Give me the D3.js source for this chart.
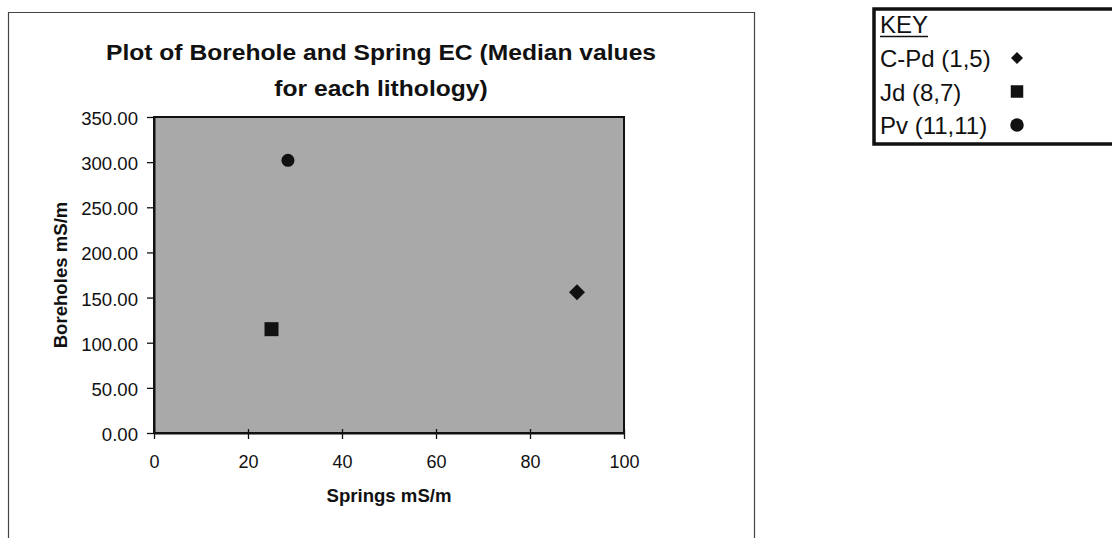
<!DOCTYPE html>
<html>
<head>
<meta charset="utf-8">
<script src="https://cdn.jsdelivr.net/npm/d3@7"></script>
<style>
  html, body { margin: 0; padding: 0; background: #fff; }
  svg { display: block; font-family: "Liberation Sans", Arial, sans-serif; }
</style>
</head>
<body>
<svg id="chart" width="1112" height="538"></svg>
<script>
// Median EC values per lithology
const lithologies = ["C-Pd (1,5)", "Jd (8,7)", "Pv (11,11)"];
const springsEC   = [90, 25, 28.5];      // mS/m
const boreholesEC = [156, 115, 302];     // mS/m
const markerShapes = ["diamond", "square", "circle"];

const xTicks = [0, 20, 40, 60, 80, 100];
const yTicks = [0, 50, 100, 150, 200, 250, 300, 350];

const titleLines = ["Plot of Borehole and Spring EC (Median values", "for each lithology)"];
const xTitle = "Springs mS/m";
const yTitle = "Boreholes mS/m";
const keyTitle = "KEY";

const ink = "#111";
const svg = d3.select("#chart");

// outer chart frame (open at the bottom)
svg.append("path")
  .attr("d", "M8.5,538 V12.5 H754.5 V538")
  .attr("fill", "none").attr("stroke", "#444").attr("stroke-width", 1.2);

const plot = { left: 154, right: 624, top: 117, bottom: 433 };

const x = d3.scaleLinear().domain([0, 100]).range([plot.left, plot.right]);
const y = d3.scaleLinear().domain([0, 350]).range([plot.bottom, plot.top]);

// plot area
svg.append("rect")
  .attr("x", plot.left).attr("y", plot.top)
  .attr("width", plot.right - plot.left).attr("height", plot.bottom - plot.top)
  .attr("fill", "#a9a9a9").attr("stroke", ink).attr("stroke-width", 2);

// y axis
const yAxis = d3.axisLeft(y).tickValues(yTicks).tickSize(7).tickSizeOuter(0)
  .tickFormat(d3.format(".2f"));
const gy = svg.append("g").attr("transform", `translate(${plot.left},0)`).call(yAxis);
gy.attr("font-family", null).attr("font-size", null);
gy.select(".domain").attr("stroke", ink).attr("stroke-width", 2);
gy.selectAll(".tick line").attr("stroke", ink).attr("stroke-width", 1.3);
gy.selectAll(".tick text").attr("font-size", 18.6).attr("fill", ink)
  .attr("x", -16).attr("dy", "0.4em");

// x axis (ticks cross the axis line)
const xAxis = d3.axisBottom(x).tickValues(xTicks).tickSize(5).tickSizeOuter(0);
const gx = svg.append("g").attr("transform", `translate(0,${plot.bottom})`).call(xAxis);
gx.attr("font-family", null).attr("font-size", null);
gx.select(".domain").attr("stroke", ink).attr("stroke-width", 2);
gx.selectAll(".tick line").attr("y1", -4).attr("y2", 6).attr("stroke", ink).attr("stroke-width", 1.3);
gx.selectAll(".tick text").attr("font-size", 18).attr("fill", ink)
  .attr("y", 35).attr("dy", 0);

// chart title, slightly widened lettering
const title = svg.append("g").attr("transform", "translate(381,0) scale(1.12,1)")
  .append("text").attr("text-anchor", "middle")
  .attr("font-weight", "bold").attr("font-size", 22).attr("fill", ink);
titleLines.forEach((t, i) => {
  title.append("tspan").attr("x", 0).attr("y", 60 + i * 36).text(t);
});

svg.append("text").attr("x", 389).attr("y", 502).attr("text-anchor", "middle")
  .attr("font-weight", "bold").attr("font-size", 18.6).attr("fill", ink).text(xTitle);

svg.append("text").attr("transform", "translate(67,275) rotate(-90)")
  .attr("text-anchor", "middle").attr("font-weight", "bold").attr("font-size", 18.6)
  .attr("fill", ink).text(yTitle);

// marker paths: diamonds are rotated squares
function markerPath(shape, size) {
  if (shape === "circle") return d3.symbol().type(d3.symbolCircle).size(Math.PI * (size / 2) ** 2)();
  if (shape === "diamond") return d3.symbol().type(d3.symbolSquare).size(size * size / 2)();
  return d3.symbol().type(d3.symbolSquare).size(size * size)();
}
function markerTransform(shape, px, py) {
  return shape === "diamond" ? `translate(${px},${py}) rotate(45)` : `translate(${px},${py})`;
}
const plotSize = { diamond: 16, square: 14, circle: 13 };
const keySize  = { diamond: 12, square: 12.5, circle: 13.5 };

// data points
const pts = lithologies.map((name, i) => ({
  name, sx: springsEC[i], by: boreholesEC[i], shape: markerShapes[i]
}));
svg.append("g").selectAll("path").data(pts).join("path")
  .attr("d", d => markerPath(d.shape, plotSize[d.shape]))
  .attr("transform", d => markerTransform(d.shape, x(d.sx), y(d.by)))
  .attr("fill", ink);

// key box (runs off the right edge)
svg.append("path")
  .attr("d", "M1112,9 H874 V144 H1112")
  .attr("fill", "none").attr("stroke", ink).attr("stroke-width", 3.5);

svg.append("text").attr("x", 880).attr("y", 33).attr("font-size", 24)
  .attr("fill", ink).text(keyTitle);
svg.append("line").attr("x1", 880).attr("x2", 928).attr("y1", 36.5).attr("y2", 36.5)
  .attr("stroke", ink).attr("stroke-width", 1.5);

const keyRow = d3.scaleLinear().domain([0, 2]).range([58, 125]);
const key = svg.append("g").selectAll("g").data(pts).join("g");
key.append("text").attr("x", 880).attr("y", (d, i) => keyRow(i) + 9)
  .attr("font-size", 24).attr("fill", ink).text(d => d.name);
key.append("path")
  .attr("d", d => markerPath(d.shape, keySize[d.shape]))
  .attr("transform", (d, i) => markerTransform(d.shape, 1017, keyRow(i)))
  .attr("fill", ink);
</script>
</body>
</html>
